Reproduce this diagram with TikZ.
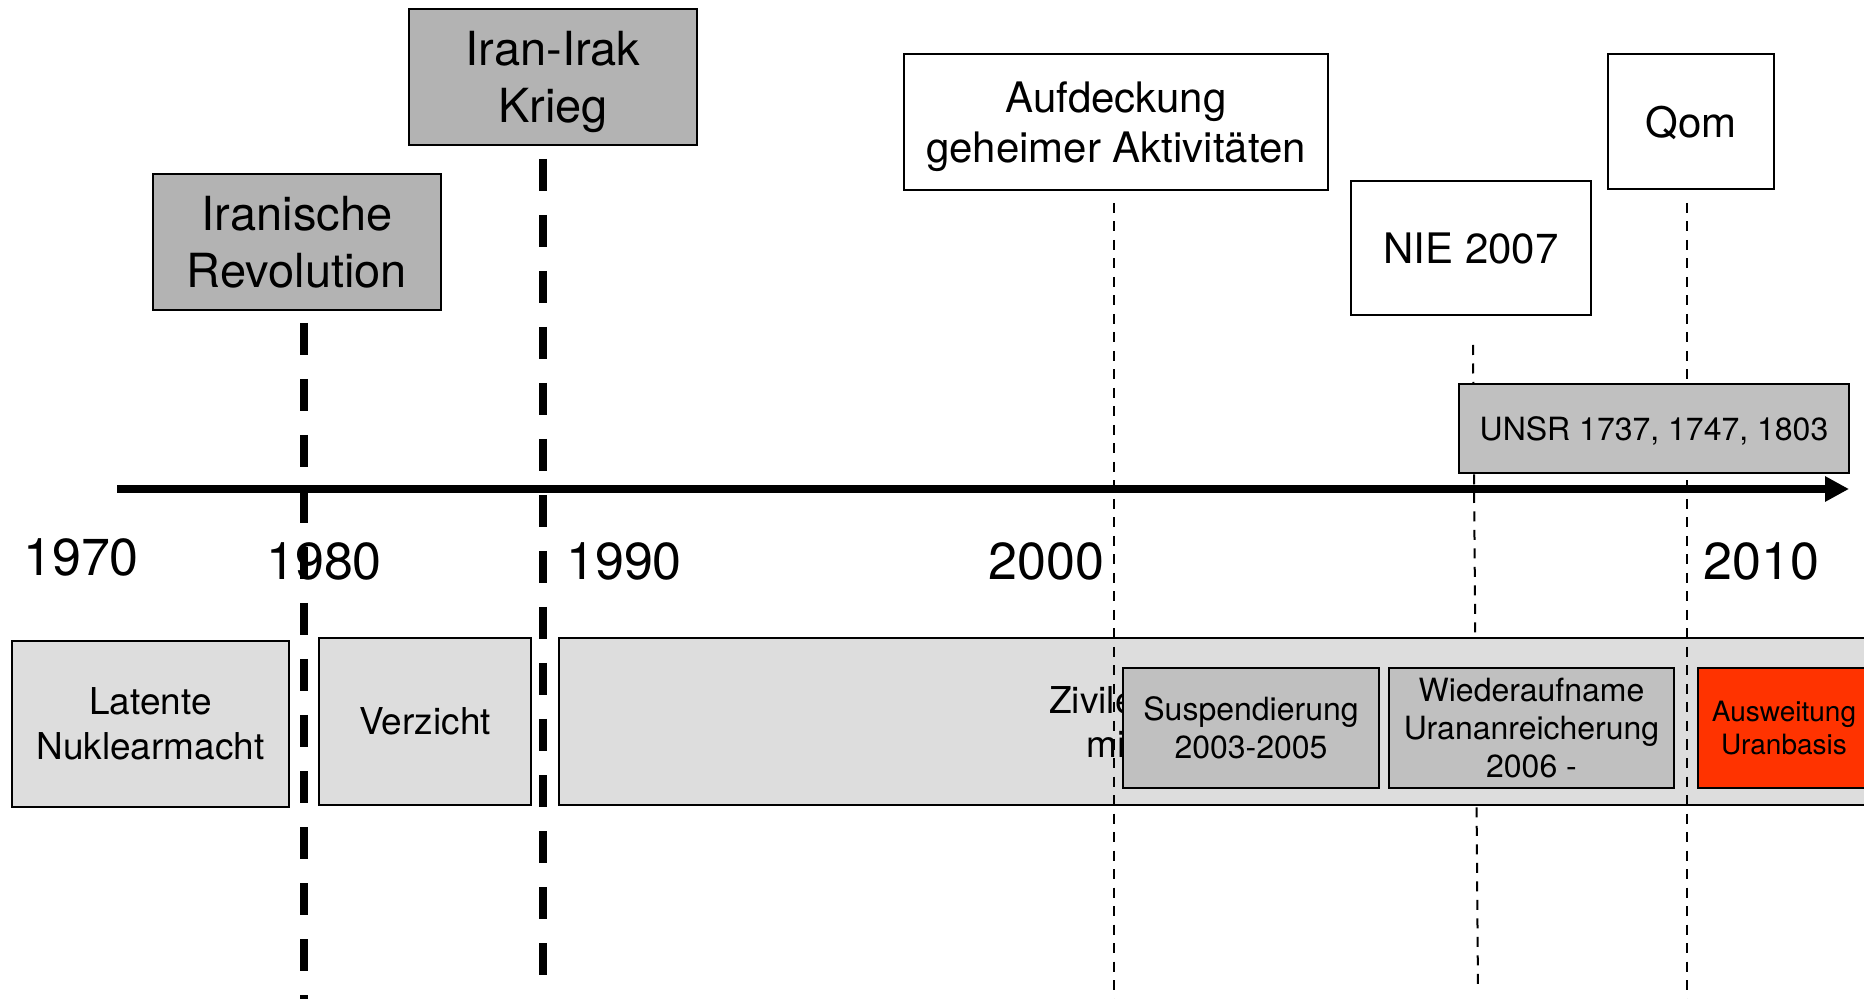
\documentclass[tikz,border=0pt]{standalone}
\usepackage{fontspec}
\setmainfont{TeX Gyre Heros}
\usepackage{tikz}
\usetikzlibrary{arrows.meta}
\definecolor{eventgrey}{HTML}{B3B3B3}
\definecolor{phasegrey}{HTML}{DDDDDD}
\definecolor{stepgrey}{HTML}{C0C0C0}
\definecolor{uranred}{HTML}{FF3300}

\begin{document}
\begin{tikzpicture}[x=0.5pt, y=-0.5pt,
    box/.style={draw, line width=1pt, align=center, inner sep=0pt, text depth=0pt},
    bigdash/.style={line width=4pt, dash pattern=on 16pt off 12pt},
    smalldash/.style={line width=1pt, dash pattern=on 5pt off 4.25pt},
    year/.style={inner sep=0pt, font=\fontsize{26}{31}\selectfont}]

        % Frame of the slide, in pixels
        \useasboundingbox (0,0) rectangle (1864,999);
        \clip (0,0) rectangle (1864,999);

        % Ends of the event lines and of the axis
        \coordinate (R1) at (304,323);
        \coordinate (R2) at (304,1005);
        \coordinate (K1) at (543,159);
        \coordinate (K2) at (543,975);
        \coordinate (A1) at (1114,203);
        \coordinate (A2) at (1114,1005);
        \coordinate (N1) at (1473,345);
        \coordinate (N2) at (1478,992);
        \coordinate (Q1) at (1687,203);
        \coordinate (Q2) at (1687,1005);
        \coordinate (T1) at (117,489);
        \coordinate (T2) at (1849,489);

        % NIE line lies behind the phases
        \draw [smalldash] (N1) -- (N2);

        % Phases below the axis
        \begin{scope}[font=\fontsize{18.5}{22.5}\selectfont]
            \node (latent) at (150.5,724) [box, fill=phasegrey,
            minimum width=138.5pt, minimum height=83pt] {Latente\\Nuklearmacht};
            \node (verzicht) at (425,721.5) [box, fill=phasegrey,
            minimum width=106pt, minimum height=83.5pt] {Verzicht};
            \node (zivil) at (1229.5,721.5) [box, fill=phasegrey,
            minimum width=670.5pt, minimum height=83.5pt] {};
            \node (ziviltext) at (1136,722) [anchor=east, align=right,
            inner sep=0pt, text depth=0pt,
            font=\fontsize{18.5}{22}\selectfont] {Zivile\\mit};
        \end{scope}

        \begin{scope}[font=\fontsize{16}{19}\selectfont]
            \node (susp) at (1251,728) [box, fill=stepgrey,
            minimum width=128pt, minimum height=60pt] {Suspendierung\\2003-2005};
            \node (wieder) at (1531.5,728) [box, fill=stepgrey,
            minimum width=142.5pt, minimum height=60pt]
            {Wiederaufname\\Urananreicherung\\2006 -};
            \node (ausweit) at (1784,728) [box, fill=uranred,
            minimum width=86pt, minimum height=60pt,
            font=\fontsize{14}{16.5}\selectfont] {Ausweitung\\Uranbasis};
        \end{scope}

        % Years on the axis
        \node (y1970) at (81,557.5) [year] {1970};
        \node (y1980) at (324,561.5) [year] {1980};
        \node (y1990) at (624,561.5) [year] {1990};
        \node (y2000) at (1046.5,561.5) [year] {2000};
        \node (y2010) at (1761.5,561.5) [year] {2010};

        % Event lines
        \draw [bigdash] (R1) -- (R2);
        \draw [bigdash] (K1) -- (K2);
        \draw [smalldash] (A1) -- (A2);
        \draw [smalldash] (Q1) -- (Q2);

        % Time axis
        \draw [line width=3.75pt, -{Triangle[length=12pt, width=12pt]}] (T1) -- (T2);

        % Events above the axis
        \begin{scope}[font=\fontsize{23.5}{28.5}\selectfont]
            \node (revo) at (297,242) [box, fill=eventgrey,
            minimum width=144pt, minimum height=68pt] {Iranische\\Revolution};
            \node (krieg) at (553,77) [box, fill=eventgrey,
            minimum width=144pt, minimum height=68pt] {Iran-Irak\\Krieg};
        \end{scope}

        \begin{scope}[font=\fontsize{21}{25}\selectfont]
            \node (aufd) at (1116,122) [box, fill=white,
            minimum width=212pt, minimum height=68pt]
            {Aufdeckung\\geheimer Aktivitäten};
            \node (nie) at (1471,248) [box, fill=white,
            minimum width=120pt, minimum height=67pt] {NIE 2007};
            \node (qom) at (1691,121.5) [box, fill=white,
            minimum width=83pt, minimum height=67.5pt] {Qom};
        \end{scope}

        \node (unsr) at (1654,428.5) [box, fill=stepgrey,
        minimum width=195pt, minimum height=44.5pt,
        font=\fontsize{16}{19}\selectfont] {UNSR 1737, 1747, 1803};

\end{tikzpicture}
\end{document}
